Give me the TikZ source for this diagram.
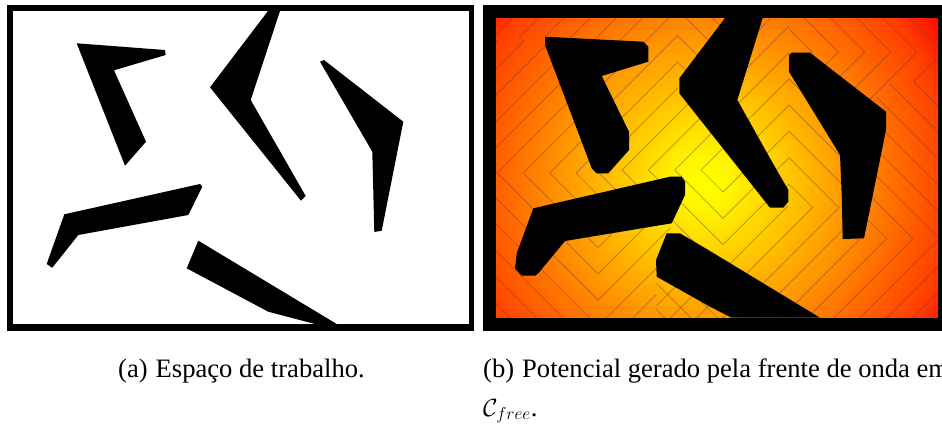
\documentclass[tikz,border=0pt]{standalone}
\usepackage{fontspec}
\setmainfont{Liberation Serif}
\pgfdeclareradialshading{potfield}{\pgfpoint{0bp}{0bp}}{%
 rgb(0bp)=(1,1,0);
 rgb(2bp)=(1,.97,0);
 rgb(8.33bp)=(1,.73,0);
 rgb(11.67bp)=(1,.60,0);
 rgb(16.67bp)=(1,.40,0);
 rgb(20.83bp)=(1,.24,0);
 rgb(24bp)=(1,.02,0);
 rgb(50bp)=(1,0,0)}
\newcommand{\Dm}[4]{%
 \foreach \j in {0,...,#4}{%
  \pgfmathsetmacro{\rr}{#3+26.3*\j}
  \draw[wavefront] ({#1},{#2-\rr}) -- ({#1+\rr},{#2}) -- ({#1},{#2+\rr}) -- ({#1-\rr},{#2}) -- cycle;
 }}
\tikzset{
 frameblack/.style={fill=black,draw=none},
 obstacle/.style={fill=black,draw=none},
 wavefront/.style={draw=black!55!red!60!gray,line width=.7pt,draw opacity=.5},
 caption/.style={anchor=base west,inner sep=0pt,font=\fontsize{26.6}{30}\selectfont}
}
\begin{document}
\begin{tikzpicture}[x=1pt,y=-1pt]
\useasboundingbox (0,0) rectangle (942,424);
\fill[white] (0,0) rectangle (942,424);
% (a) workspace
\fill[frameblack] (7,5) rectangle (474,331);
\fill[white] (13.3,11.3) rectangle (468.7,324);
\fill[obstacle] (76.7,43.3) -- (165,50) -- (165.7,55) -- (114,70.3) -- (146,141.7) -- (125,165.7) -- cycle;
\fill[obstacle] (268,11) -- (280,11) -- (250.7,100) -- (305.7,196) -- (301,200.7) -- (210,87.3) -- cycle;
\fill[obstacle] (320,61.7) -- (324,60) -- (403.3,121.7) -- (381.7,230.7) -- (374.3,232) -- (372.3,151.7) -- cycle;
\fill[obstacle] (64.3,214.3) -- (200,184) -- (202.3,186.7) -- (188.3,215) -- (78.3,235) -- (52.3,267.7) -- (46.7,264) -- cycle;
\fill[obstacle] (198.3,240.7) -- (336.7,324) -- (315,324) -- (268.3,311.7) -- (186.7,268.3) -- cycle;
% (b) potential
\fill[frameblack] (483,5) rectangle (942,331);
\begin{scope}
 \clip (496,18) rectangle (938,317.7);
 \shade[shading=potfield] (704,182) circle (300pt);
 % zone above the first obstacle, far left
 \begin{scope}
  \clip (496,18) rectangle (545,41.4);
  \Dm{545}{37}{25.6}{3}
 \end{scope}
 % zone left of and under the left obstacles
 \begin{scope}
  \clip (496,41.4) -- (545,41.4) -- (598,173) -- (598,200) -- (671,226) -- (656,277) -- (656,318) -- (496,318) -- cycle;
  \Dm{598}{173}{22}{12}
 \end{scope}
 % main zone
 \begin{scope}
  \clip (545,18) -- (678,18) -- (678,93) -- (710,93) -- (778,200) -- (789,207) -- (855,207) -- (855,239) -- (938,239) -- (938,318) -- (656,318) -- (656,277) -- (671,226) -- (598,200) -- (598,173) -- (545,41.4) -- cycle;
  \Dm{723}{170}{22}{16}
 \end{scope}
 % shadow of the left corner of the middle obstacle
 \begin{scope}
  \clip (678,18) -- (744,18) -- (710,93) -- (678,93) -- cycle;
  \Dm{678}{93}{30.5}{4}
 \end{scope}
 % shadow on the right of the middle obstacle
 \begin{scope}
  \clip (744,18) -- (789,18) -- (789,63) -- (845,110) -- (855,207) -- (789,207) -- (778,200) -- (710,93) -- cycle;
  \Dm{789}{207}{23}{8}
 \end{scope}
 % zone above the right obstacle
 \begin{scope}
  \clip (789,18) -- (938,18) -- (938,82) -- (892,82) -- (850,124) -- (845,110) -- (789,63) -- cycle;
  \Dm{789}{52}{23}{8}
 \end{scope}
 % zone right of the right obstacle
 \begin{scope}
  \clip (892,82) -- (938,82) -- (938,239) -- (855,239) -- (855,150) -- (850,124) -- cycle;
  \Dm{864}{239}{23}{10}
 \end{scope}
 % zone under the bottom obstacle
 \begin{scope}
  \clip (656,277) rectangle (760,318);
  \Dm{656}{277}{29}{4}
 \end{scope}
 % dilated obstacles
 \fill[obstacle] (545,36.7) -- (643.3,41.7) -- (648.3,46.7) -- (648.3,61.7) -- (601.7,76) -- (629,131.7) -- (629,150) -- (608.3,173.3) -- (596.7,173.3) -- (591.7,168.3) -- (545,45) -- cycle;
 \fill[obstacle] (725,18) -- (762.7,18) -- (737.3,100) -- (776.7,170) -- (788.3,190) -- (788.3,201.7) -- (783.3,207.7) -- (770,207.7) -- (679.3,93.3) -- (679.3,78.3) -- cycle;
 \fill[obstacle] (789,55) -- (791.7,52.7) -- (810,52.7) -- (886,111.7) -- (886,130) -- (864,238.3) -- (842.7,239) -- (841.7,195) -- (840,155) -- (789,71.7) -- cycle;
 \fill[obstacle] (533.3,208.3) -- (670,176.7) -- (681.7,176.7) -- (685,181.7) -- (685,195) -- (671.7,223.3) -- (565,241) -- (538.3,273.3) -- (535,275.7) -- (521.7,275.7) -- (515,268.3) -- (516.7,253.3) -- cycle;
 \fill[obstacle] (666.7,233.3) -- (680,233.3) -- (710,251) -- (820,317.7) -- (731.7,317.7) -- (710,306.7) -- (656.7,276.7) -- (656,260) -- cycle;
\end{scope}
% captions
\node[caption] (capa) at (118,377) {(a)\hspace{.3em}Espaço de trabalho.};
\node[caption] (capb) at (483,377) {(b)\hspace{.3em}Potencial gerado pela frente de onda em};
\node[caption] (capc) at (483,416) {$\mathcal{C}_{free}$.};
\end{tikzpicture}
\end{document}
